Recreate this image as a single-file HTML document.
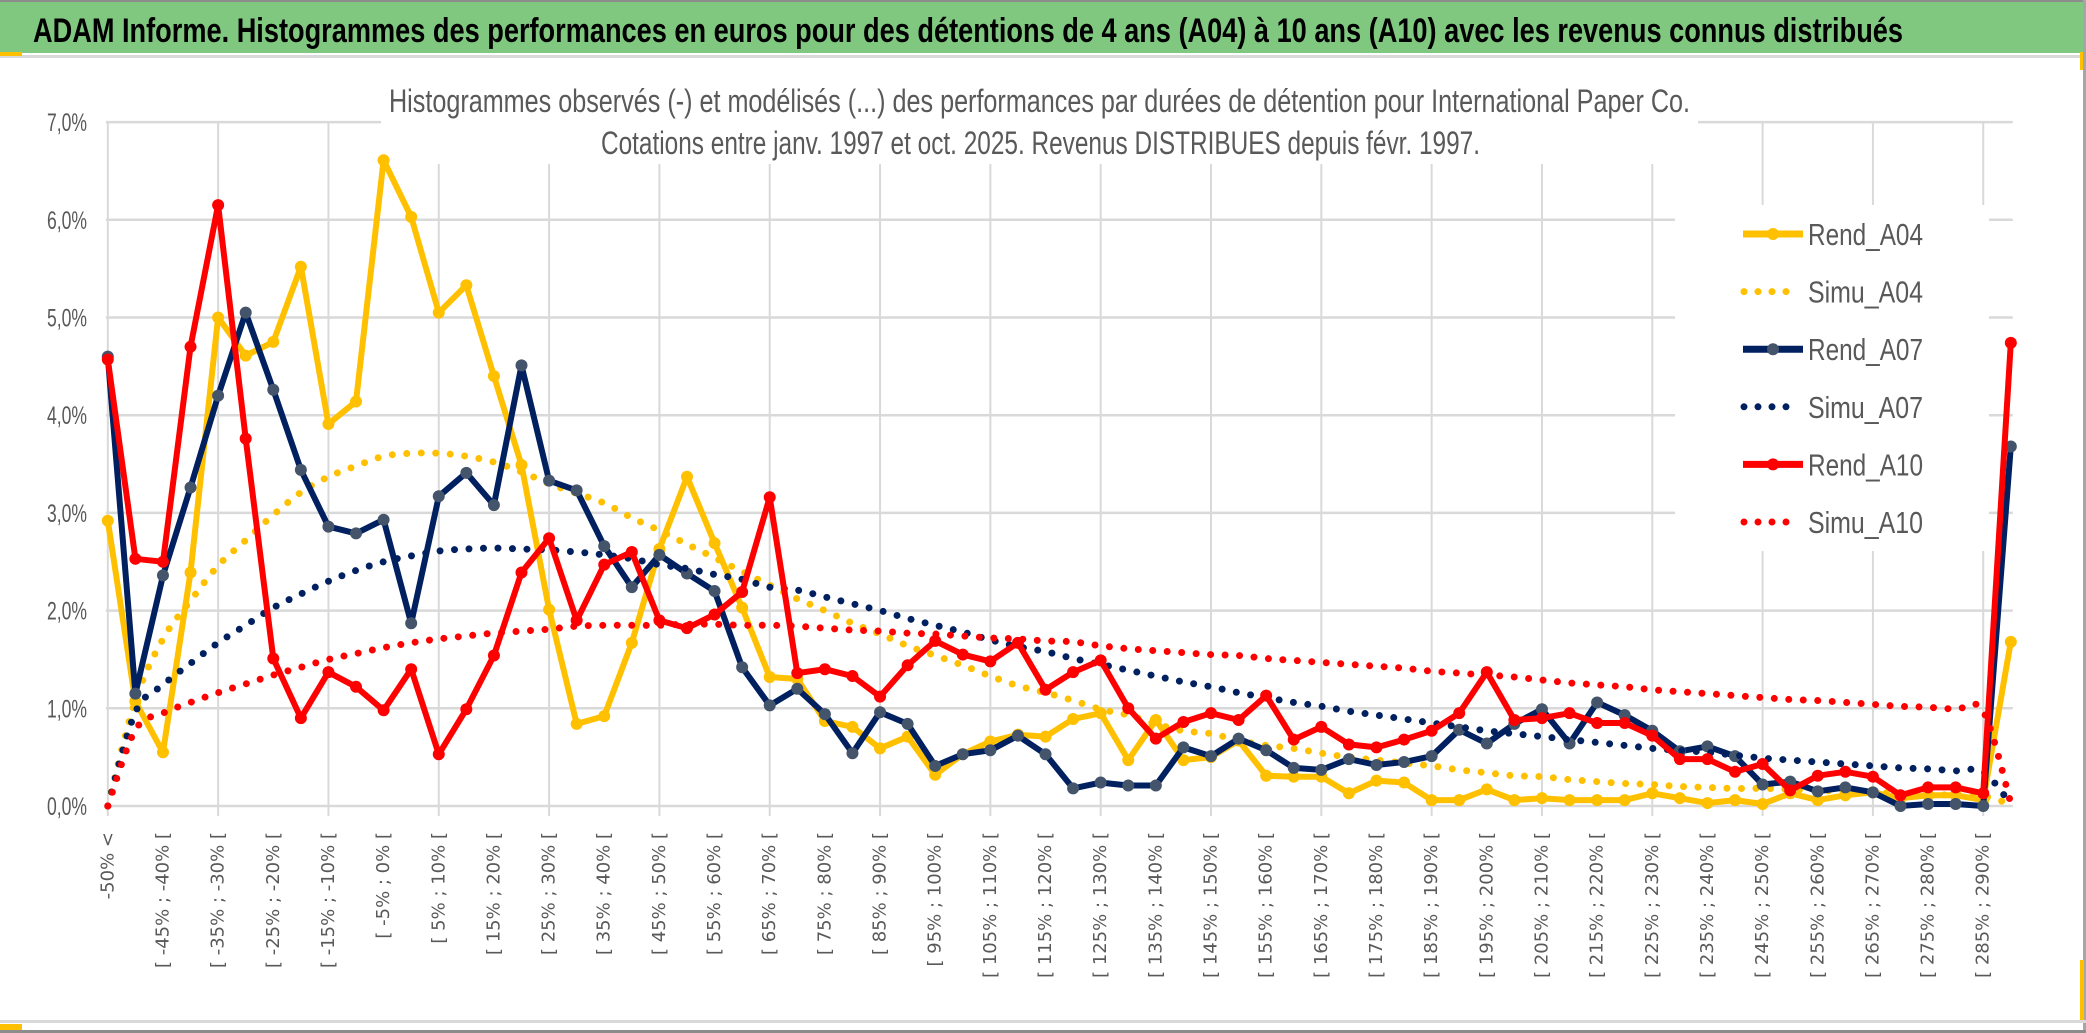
<!DOCTYPE html>
<html><head><meta charset="utf-8"><title>ADAM Informe – International Paper Co.</title>
<style>
html,body{margin:0;padding:0;background:#fff;}
svg{display:block;}
</style></head>
<body>
<svg id="chart" width="2086" height="1033" viewBox="0 0 2086 1033" xmlns="http://www.w3.org/2000/svg">
  <rect x="0" y="0" width="2086" height="1033" fill="#ffffff"/>
  <rect x="0" y="0" width="2086" height="2" fill="#8c8c8c"/>
  <rect x="0" y="2" width="2086" height="51" fill="#80c880"/>
  <text x="33" y="42" font-family="'Liberation Sans Narrow','Liberation Sans',sans-serif" font-size="34" font-weight="bold" fill="#000" textLength="1870" lengthAdjust="spacingAndGlyphs">ADAM Informe. Histogrammes des performances en euros pour des détentions de 4 ans (A04) à 10 ans (A10) avec les revenus connus distribués</text>
  <rect x="0" y="55" width="2086" height="3" fill="#d9d9d9"/>
  <rect x="0" y="52" width="22" height="4" fill="#ffc000"/>
  <rect x="2080" y="52" width="4" height="18" fill="#ffc000"/>
  <rect x="2083" y="0" width="3" height="1033" fill="#a6a6a6"/>
  <rect x="0" y="1020" width="2086" height="3" fill="#d9d9d9"/>
  <rect x="0" y="1030" width="2086" height="3" fill="#8c8c8c"/>
  <rect x="0" y="1024" width="22" height="6" fill="#ffc000"/>
  <rect x="2080" y="960" width="4" height="60" fill="#ffc000"/>
  <g id="grid"></g>
  <g id="masks">
    <rect x="381" y="60" width="1317" height="104" fill="#fff"/>
    <rect x="1675" y="205" width="314" height="346" fill="#fff"/>
  </g>
  <g id="yticks"></g>
  <g id="xticks"></g>
  <g>
    <text x="389" y="112" font-family="'Liberation Sans Narrow','Liberation Sans',sans-serif" font-size="32" fill="#595959" textLength="1301" lengthAdjust="spacingAndGlyphs">Histogrammes observés (-) et modélisés (...) des performances par durées de détention pour International Paper Co.</text>
    <text x="601" y="154" font-family="'Liberation Sans Narrow','Liberation Sans',sans-serif" font-size="32" fill="#595959" textLength="879" lengthAdjust="spacingAndGlyphs">Cotations entre janv. 1997 et oct. 2025. Revenus DISTRIBUES depuis févr. 1997.</text>
  </g>
  <g id="series"></g>
  <g id="legend"></g>
</svg>
<script>
const categoryStarts = [-50,-45,-40,-35,-30,-25,-20,-15,-10,-5,0,5,10,15,20,25,30,35,40,45,50,55,60,65,70,75,80,85,90,95,100,105,110,115,120,125,130,135,140,145,150,155,160,165,170,175,180,185,190,195,200,205,210,215,220,225,230,235,240,245,250,255,260,265,270,275,280,285,290];
const yTicks = [0,1,2,3,4,5,6,7];
const yTickLabels = ["0,0%","1,0%","2,0%","3,0%","4,0%","5,0%","6,0%","7,0%"];
const rendA04 = [2.92,1.07,0.55,2.39,5.0,4.61,4.75,5.52,3.91,4.14,6.61,6.03,5.05,5.33,4.4,3.49,2.01,0.84,
 0.92,1.67,2.63,3.37,2.69,2.03,1.32,1.30,0.87,0.81,0.59,0.71,0.32,0.53,0.66,0.73,0.71,0.89,
 0.95,0.47,0.88,0.47,0.5,0.67,0.31,0.3,0.3,0.13,0.26,0.24,0.06,0.06,0.17,0.06,0.08,
 0.06,0.06,0.06,0.13,0.08,0.03,0.06,0.02,0.13,0.06,0.11,0.14,0.08,0.11,0.11,0.06,1.68];
const simuA04 = [0,1.08,1.71,2.1,2.46,2.72,2.98,3.21,3.37,3.48,3.58,3.61,3.61,3.58,3.52,3.42,3.3,3.2,
 3.1,2.95,2.82,2.68,2.54,2.4,2.26,2.12,2.0,1.87,1.76,1.64,1.54,1.44,1.33,1.23,1.16,1.08,
 0.99,0.93,0.84,0.77,0.74,0.67,0.62,0.59,0.54,0.50,0.47,0.44,0.41,0.37,0.34,0.31,0.30,
 0.27,0.25,0.23,0.22,0.2,0.19,0.18,0.18,0.17,0.16,0.15,0.14,0.13,0.12,0.11,0.1,0.02];
const rendA07 = [4.6,1.15,2.36,3.26,4.2,5.05,4.26,3.44,2.86,2.79,2.93,1.87,3.17,3.41,3.08,4.51,3.33,3.23,
 2.66,2.24,2.57,2.38,2.2,1.42,1.03,1.2,0.94,0.54,0.96,0.84,0.41,0.53,0.57,0.72,0.53,0.18,
 0.24,0.21,0.21,0.6,0.51,0.69,0.57,0.39,0.37,0.48,0.42,0.45,0.51,0.78,0.64,0.84,0.99,
 0.64,1.06,0.93,0.77,0.56,0.61,0.51,0.22,0.25,0.15,0.19,0.14,0.0,0.02,0.02,0.0,3.68];
const simuA07 = [0,0.96,1.24,1.46,1.67,1.85,2.03,2.17,2.3,2.41,2.5,2.56,2.61,2.63,2.64,2.63,2.62,2.6,
 2.57,2.53,2.47,2.43,2.37,2.32,2.24,2.21,2.14,2.07,2.0,1.92,1.85,1.78,1.7,1.63,1.58,1.51,
 1.45,1.39,1.33,1.27,1.22,1.16,1.11,1.06,1.02,0.97,0.93,0.89,0.85,0.81,0.77,0.74,0.71,
 0.68,0.65,0.62,0.59,0.57,0.55,0.52,0.49,0.47,0.45,0.43,0.41,0.39,0.38,0.36,0.35,0.02];
const rendA10 = [4.57,2.53,2.5,4.7,6.15,3.76,1.51,0.9,1.37,1.22,0.98,1.4,0.53,0.99,1.54,2.39,2.74,1.9,
 2.47,2.6,1.9,1.82,1.96,2.19,3.16,1.36,1.4,1.33,1.12,1.44,1.69,1.55,1.48,1.67,1.19,1.37,
 1.49,1.0,0.69,0.86,0.95,0.88,1.13,0.68,0.81,0.63,0.6,0.68,0.77,0.95,1.37,0.88,0.9,
 0.95,0.85,0.85,0.72,0.48,0.48,0.35,0.43,0.16,0.31,0.35,0.3,0.11,0.19,0.19,0.13,4.74];
const simuA10 = [0,0.78,0.95,1.06,1.16,1.25,1.34,1.42,1.5,1.56,1.62,1.67,1.71,1.74,1.77,1.79,1.81,1.84,
 1.85,1.85,1.85,1.86,1.86,1.85,1.85,1.84,1.82,1.8,1.79,1.77,1.76,1.74,1.72,1.71,1.69,1.68,
 1.64,1.61,1.59,1.57,1.55,1.54,1.51,1.49,1.47,1.45,1.43,1.41,1.38,1.36,1.34,1.32,1.29,
 1.26,1.24,1.22,1.19,1.17,1.15,1.13,1.11,1.09,1.08,1.06,1.04,1.02,1.01,0.99,0.97,0.03];

const NS = "http://www.w3.org/2000/svg";
const categories = ["-50% <"];
for (let k = 0; k < categoryStarts.length - 1; k++) {
  categories.push("[ " + categoryStarts[k] + "% ; " + categoryStarts[k+1] + "% [");
}
categories.push("> 290%");

const X0 = 107.8, DX = 27.58, Y0 = 806, DY = 97.7;
function xPos(i) { return X0 + i * DX; }
function yPos(v) { return Y0 - v * DY; }
function mk(tag, attrs, parent) {
  const el = document.createElementNS(NS, tag);
  for (const k in attrs) el.setAttribute(k, attrs[k]);
  parent.appendChild(el);
  return el;
}

const grid = document.getElementById('grid');
yTicks.forEach(function (t) {
  const ln = mk('line', {x1: X0 - 2, x2: xPos(categories.length - 1) + 2, y1: yPos(t), y2: yPos(t), stroke: '#d9d9d9', 'stroke-width': 2.5}, grid);
  
  
});
for (let i = 0; i < categories.length; i += 4) {
  const ln = mk('line', {x1: xPos(i), x2: xPos(i), y1: yPos(7), y2: Y0 + 10, stroke: '#d9d9d9', 'stroke-width': 2}, grid);
  
  
}

const yg = document.getElementById('yticks');
yTicks.forEach(function (t, k) {
  const tx = mk('text', {x: 87, y: yPos(t) + 9, 'text-anchor': 'end', 'font-family': "'Liberation Sans Narrow','Liberation Sans',sans-serif", 'font-size': 25, fill: '#595959', textLength: 40, lengthAdjust: 'spacingAndGlyphs'}, yg);
  tx.textContent = yTickLabels[k];
  
  
});

const xg = document.getElementById('xticks');
for (let i = 0; i < categories.length; i += 2) {
  const x = xPos(i), y = 832;
  const tx = mk('text', {x: x, y: y, transform: 'rotate(-90 ' + x + ' ' + y + ')', 'text-anchor': 'end', 'dominant-baseline': 'central', 'font-family': "'DejaVu Sans',sans-serif", 'font-size': 18, fill: '#595959'}, xg);
  tx.textContent = categories[i];
  
  
}

const sg = document.getElementById('series');
function straightPath(vals) {
  return vals.map(function (v, i) { return (i ? 'L' : 'M') + xPos(i).toFixed(1) + ' ' + yPos(v).toFixed(1); }).join(' ');
}
function smoothPath(vals) {
  const p = vals.map(function (v, i) { return [xPos(i), yPos(v)]; });
  let d = 'M' + p[0][0].toFixed(1) + ' ' + p[0][1].toFixed(1);
  for (let i = 0; i < p.length - 1; i++) {
    const p0 = p[Math.max(0, i - 1)], p1 = p[i], p2 = p[i + 1], p3 = p[Math.min(p.length - 1, i + 2)];
    const t = 1 / 6;
    const c1x = p1[0] + (p2[0] - p0[0]) * t, c1y = p1[1] + (p2[1] - p0[1]) * t;
    const c2x = p2[0] - (p3[0] - p1[0]) * t, c2y = p2[1] - (p3[1] - p1[1]) * t;
    d += ' C' + c1x.toFixed(1) + ' ' + c1y.toFixed(1) + ' ' + c2x.toFixed(1) + ' ' + c2y.toFixed(1) + ' ' + p2[0].toFixed(1) + ' ' + p2[1].toFixed(1);
  }
  return d;
}
function drawRend(vals, color, marker, name) {
  const g = mk('g', {}, sg);
  
  
  const path = mk('path', {d: straightPath(vals), fill: 'none', stroke: color, 'stroke-width': 6, 'stroke-linejoin': 'round'}, g);
  
  
  vals.forEach(function (v, i) {
    const c = mk('circle', {cx: xPos(i), cy: yPos(v), r: 6, fill: marker}, g);
    
    
  });
}
function drawSimu(vals, color, name) {
  const path = mk('path', {d: smoothPath(vals), fill: 'none', stroke: color, 'stroke-width': 7, 'stroke-linecap': 'round', 'stroke-dasharray': '0 14.5'}, sg);
  
  
}
drawRend(rendA04, '#ffc000', '#ffc000', 'rend-a04');
drawSimu(simuA04, '#ffc000', 'simu-a04');
drawRend(rendA07, '#002060', '#44546a', 'rend-a07');
drawSimu(simuA07, '#002060', 'simu-a07');
drawRend(rendA10, '#ff0000', '#ff0000', 'rend-a10');
drawSimu(simuA10, '#ff0000', 'simu-a10');

const lg = document.getElementById('legend');
const legendNames = ['Rend_A04','Simu_A04','Rend_A07','Simu_A07','Rend_A10','Simu_A10'];
const legendColors = ['#ffc000','#ffc000','#002060','#002060','#ff0000','#ff0000'];
const legendMarkers = ['#ffc000',null,'#44546a',null,'#ff0000',null];
legendNames.forEach(function (nm, k) {
  const y = 234 + k * 57.6;
  const g = mk('g', {}, lg);
  
  
  if (legendMarkers[k]) {
    mk('line', {x1: 1743, x2: 1803, y1: y, y2: y, stroke: legendColors[k], 'stroke-width': 7}, g);
    mk('circle', {cx: 1773, cy: y, r: 6, fill: legendMarkers[k]}, g);
  } else {
    mk('line', {x1: 1744, x2: 1800, y1: y, y2: y, stroke: legendColors[k], 'stroke-width': 7, 'stroke-linecap': 'round', 'stroke-dasharray': '0 14'}, g);
  }
  const tx = mk('text', {x: 1808, y: y + 11, 'font-family': "'Liberation Sans Narrow','Liberation Sans',sans-serif", 'font-size': 31, fill: '#595959', textLength: 115, lengthAdjust: 'spacingAndGlyphs'}, g);
  tx.textContent = nm;
});
</script>
</body></html>
